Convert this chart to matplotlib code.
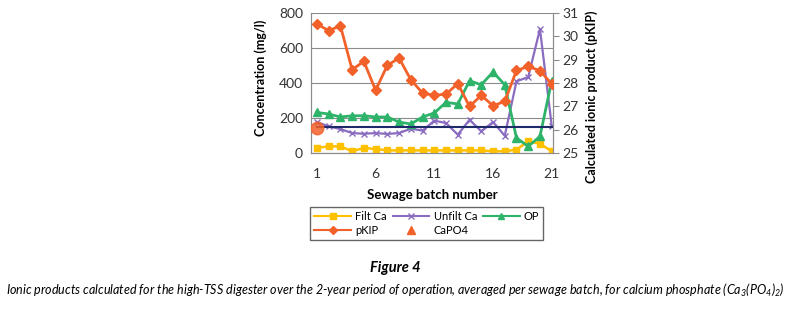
import matplotlib.pyplot as plt
from matplotlib.lines import Line2D

plt.rcParams['font.family'] = ['Lato', 'DejaVu Sans']
plt.rcParams['mathtext.fontset'] = 'custom'
plt.rcParams['mathtext.rm'] = 'Lato:italic'
plt.rcParams['mathtext.it'] = 'Lato:italic'

batch = list(range(1, 22))
filt_ca = [29, 38, 38, 10, 29, 23, 15, 15, 15, 15, 15, 15, 15, 15, 15, 10, 10, 19, 67, 53, 10]
unfilt_ca = [177, 152, 137, 114, 110, 114, 109, 114, 139, 128, 185, 171, 105, 190, 124, 177, 99, 410, 434, 709, 156]
op = [232, 223, 206, 213, 213, 206, 206, 177, 166, 206, 229, 290, 280, 413, 390, 463, 390, 86, 38, 95, 413]
pkip = [30.54, 30.24, 30.46, 28.57, 28.93, 27.69, 28.76, 29.07, 28.14, 27.57, 27.47,
        27.53, 27.97, 27.0, 27.47, 27.03, 27.21, 28.54, 28.71, 28.53, 27.96]
capo4_x = [1]
capo4 = [26.07]
capo4_line = 26.11

c_filt = '#FFC000'
c_unfilt = '#8A6CC0'
c_op = '#2DB36A'
c_pkip = '#F2612A'
c_line = '#1F2A6B'
grey = '#8C8C8C'

fig = plt.figure(figsize=(7.9, 3.11), dpi=100)
ax = fig.add_axes([0.394, 0.508, 0.306, 0.450])
ax2 = ax.twinx()

ax.plot(batch, filt_ca, color=c_filt, marker='s', ms=5, lw=1.8, label='Filt Ca', zorder=3)
ax.plot(batch, unfilt_ca, color=c_unfilt, marker='x', ms=5, mew=1, lw=1.6, label='Unfilt Ca', zorder=3)
ax.plot(batch, op, color=c_op, marker='^', ms=6, lw=2, label='OP', zorder=3)

ax2.plot([batch[0], batch[-1]], [capo4_line, capo4_line], color=c_line, lw=1.5, zorder=2)
ax2.plot(batch, pkip, color=c_pkip, marker='D', ms=5, lw=2, label='pKIP', zorder=4)
ax2.plot(capo4_x, capo4, 'o', color=c_pkip, ms=9, alpha=0.85, zorder=4)

ax.set_ylim(0, 800)
ax.set_yticks([0, 200, 400, 600, 800])
ax.set_xlim(0.52, 21.11)
ax.set_xticks([1, 6, 11, 16, 21])
ax2.set_ylim(25, 31)
ax2.set_yticks(range(25, 32))

ax.grid(axis='y', color=grey, lw=0.8)
ax.set_axisbelow(True)
for a in (ax, ax2):
    for s in a.spines.values():
        s.set_color(grey)
    a.spines['top'].set_visible(False)
ax.tick_params(axis='both', labelsize=10, colors='#333333', length=0, pad=6)
ax.tick_params(axis='x', pad=11)
ax2.tick_params(axis='y', labelsize=10, colors='#333333', color=grey, length=4, pad=3)

ax.set_ylabel('Concentration (mg/l)', fontsize=9, fontweight='bold')
ax.yaxis.set_label_coords(-0.182, 0.54)
ax2.set_ylabel('Calculated ionic product (pKIP)', fontsize=9, fontweight='bold', rotation=90)
ax2.yaxis.set_label_coords(1.135, 0.40)
ax.set_xlabel('Sewage batch number', fontsize=9.5, fontweight='bold', labelpad=6)

# column-major order so rows read Filt Ca, Unfilt Ca, OP / pKIP, CaPO4
handles = [
    Line2D([], [], color=c_filt, marker='s', ms=5, lw=1.5),
    Line2D([], [], color=c_pkip, marker='D', ms=4, lw=1.5),
    Line2D([], [], color=c_unfilt, marker='x', ms=5, lw=1.5),
    Line2D([], [], color=c_pkip, marker='^', ms=6, lw=0),
    Line2D([], [], color=c_op, marker='^', ms=5, lw=1.5),
]
labels = ['Filt Ca', 'pKIP', 'Unfilt Ca', 'CaPO4', 'OP']
leg = fig.legend(handles, labels, ncol=3, loc='upper left', bbox_to_anchor=(0.386, 0.352),
                 fontsize=8, frameon=True, fancybox=False, edgecolor='#404040',
                 handlelength=3.3, columnspacing=0.5, handletextpad=0.4,
                 borderpad=0.35, labelspacing=0.25)
leg.get_frame().set_linewidth(1)

fig.text(0.501, 0.138, 'Figure 4', ha='center', va='center', fontsize=10.5,
         fontweight='bold', style='italic')
cap = fig.text(0.5, 0.0675, 'Ionic products calculated for the high-TSS digester over the 2-year period of '
               'operation, averaged per sewage batch, for calcium phosphate (Ca$_3$(PO$_4$)$_2$)',
               ha='center', va='center', fontsize=9, style='italic')

# shrink the caption so it spans the same width as the original
fig.canvas.draw()
w = cap.get_window_extent().width
cap.set_fontsize(9 * 781 / w)

fig.savefig('out.png', dpi=100)
